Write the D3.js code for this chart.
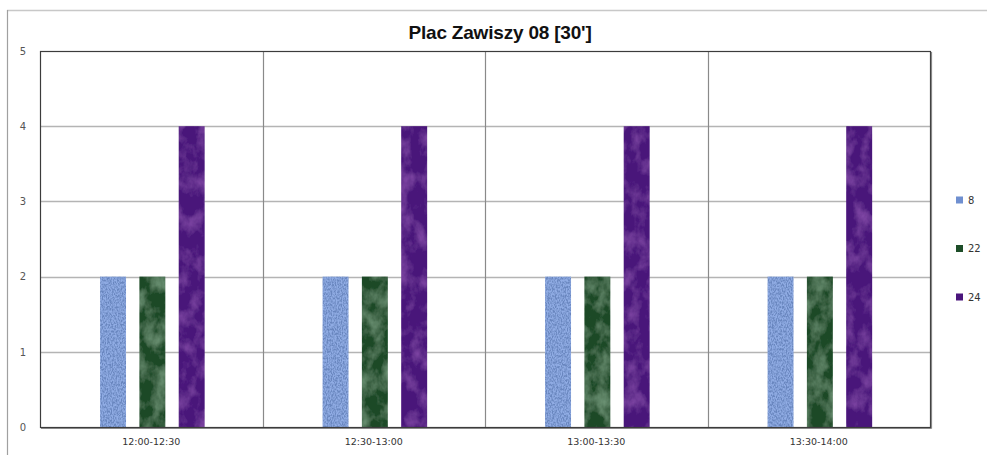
<!DOCTYPE html>
<html>
<head>
<meta charset="utf-8">
<script src="https://cdn.jsdelivr.net/npm/d3@7"></script>
<style>
  body { margin: 0; background: #fff; }
  svg { display: block; }
</style>
</head>
<body>
<div id="chart"></div>
<script>
// data
var categories = ["12:00-12:30", "12:30-13:00", "13:00-13:30", "13:30-14:00"];
var seriesNames = ["8", "22", "24"];
var values8 = [2, 2, 2, 2];
var values22 = [2, 2, 2, 2];
var values24 = [4, 4, 4, 4];
var yTicks = [0, 1, 2, 3, 4, 5];
var title = "Plac Zawiszy 08 [30']";

var seriesValues = [values8, values22, values24];
var colors = ["#90ace4", "#1c4a27", "#48147a"];
var legendColors = ["#6f8fd0", "#1d4d28", "#4a157c"];

var W = 987, H = 455;
var margin = {top: 51, right: 57, bottom: 28, left: 40};
var w = W - margin.left - margin.right,
    h = H - margin.top - margin.bottom;

var svg = d3.select("#chart").append("svg")
    .attr("width", W)
    .attr("height", H);

//---------------------------- textures for the bars ----------------------------
// noise layer in one colour, alpha = a*noise + b, painted over the bar
var defs = svg.append("defs");
function texture(id, freq, oct, rgb, a, b) {
    var f = defs.append("filter").attr("id", id)
        .attr("x", 0).attr("y", 0).attr("width", 1).attr("height", 1);
    f.append("feTurbulence").attr("type", "fractalNoise")
        .attr("baseFrequency", freq).attr("numOctaves", oct).attr("seed", 5).attr("result", "noise");
    f.append("feColorMatrix").attr("in", "noise").attr("type", "matrix")
        .attr("values", "0 0 0 0 " + rgb[0] + "  0 0 0 0 " + rgb[1] + "  0 0 0 0 " + rgb[2] +
            "  " + a + " 0 0 0 " + b)
        .attr("result", "shade");
    f.append("feComposite").attr("in", "shade").attr("in2", "SourceGraphic").attr("operator", "atop");
}
texture("tex0", "0.8 0.45", 2, [0.14, 0.24, 0.52], 2.8, -0.95);
texture("tex1", "0.07 0.05", 4, [0.28, 0.5, 0.32], 1.0, -0.4);
texture("tex2", "0.07 0.05", 4, [0.4, 0.13, 0.6], 0.9, -0.38);

// outer chart frame (cut off at the right)
svg.append("line").attr("x1", 7).attr("x2", W).attr("y1", 10.5).attr("y2", 10.5)
    .attr("stroke", "#c8c8c8").attr("stroke-width", 1.5);
svg.append("line").attr("x1", 7.5).attr("x2", 7.5).attr("y1", 10).attr("y2", H)
    .attr("stroke", "#a0a0a0").attr("stroke-width", 1.2);

// title
svg.append("text")
    .attr("x", 500).attr("y", 39)
    .attr("text-anchor", "middle")
    .style("font-family", "'Liberation Sans', Arial, sans-serif")
    .style("font-weight", "bold")
    .style("font-size", "19px")
    .style("letter-spacing", "-0.2px")
    .style("fill", "#111")
    .text(title);

var g = svg.append("g")
    .attr("transform", "translate(" + margin.left + "," + margin.top + ")");

//---------------------------- scales ----------------------------
var yScale = d3.scaleLinear().domain([0, 5]).range([h, 0]);

var x0 = d3.scaleBand().domain(categories).range([0, w]).padding(0);
var bw = x0.bandwidth();
var x1 = d3.scaleBand().domain(seriesNames)
    .range([bw * 0.27, bw * 0.74])
    .paddingInner(0.34);

// horizontal grid
g.selectAll(".grid")
    .data(yTicks.filter(function (d) { return d > 0 && d < 5; }))
    .enter().append("line")
    .attr("x1", 0).attr("x2", w)
    .attr("y1", function (d) { return Math.round(yScale(d)) + 0.5; })
    .attr("y2", function (d) { return Math.round(yScale(d)) + 0.5; })
    .attr("stroke", "#b4b4b4").attr("stroke-width", 1.3);

// vertical category dividers
g.selectAll(".vdiv")
    .data(categories.slice(1))
    .enter().append("line")
    .attr("x1", function (d) { return Math.round(x0(d)) + 0.5; })
    .attr("x2", function (d) { return Math.round(x0(d)) + 0.5; })
    .attr("y1", 0).attr("y2", h)
    .attr("stroke", "#8a8a8a").attr("stroke-width", 1.2);

//---------------------------- bars ----------------------------
seriesNames.forEach(function (s, si) {
    g.selectAll(".bar" + si)
        .data(seriesValues[si])
        .enter().append("rect")
        .attr("x", function (d, i) { return x0(categories[i]) + x1(s); })
        .attr("y", function (d) { return yScale(d); })
        .attr("width", x1.bandwidth())
        .attr("height", function (d) { return h - yScale(d); })
        .attr("fill", colors[si])
        .attr("filter", "url(#tex" + si + ")");
});

// plot area border
g.append("rect")
    .attr("x", 0.5).attr("y", 0.5)
    .attr("width", w).attr("height", h)
    .attr("fill", "none")
    .attr("stroke", "#3c3c3c").attr("stroke-width", 1.2);
g.append("line").attr("x1", 1).attr("x2", w + 1.5).attr("y1", h + 1.5).attr("y2", h + 1.5)
    .attr("stroke", "#888").attr("stroke-width", 1.2);
g.append("line").attr("x1", w + 1.5).attr("x2", w + 1.5).attr("y1", 1).attr("y2", h + 1.5)
    .attr("stroke", "#888").attr("stroke-width", 1.2);

//---------------------------- axes ----------------------------
var yAxis = g.append("g")
    .call(d3.axisLeft(yScale).tickValues(yTicks).tickFormat(d3.format("d")).tickSize(0).tickPadding(14));
yAxis.select(".domain").remove();
yAxis.selectAll("text")
    .style("font-family", "'DejaVu Sans', Verdana, sans-serif")
    .style("font-size", "10px")
    .style("fill", "#555");

var xAxis = g.append("g")
    .attr("transform", "translate(0," + h + ")")
    .call(d3.axisBottom(x0).tickSize(0).tickPadding(11));
xAxis.select(".domain").remove();
xAxis.selectAll("text")
    .style("font-family", "'DejaVu Sans', Verdana, sans-serif")
    .style("font-size", "9.5px")
    .style("fill", "#333");

//---------------------------- legend ----------------------------
var legend = svg.append("g").attr("transform", "translate(956,0)");
var legendY = d3.scalePoint().domain(seriesNames).range([200, 297]);
seriesNames.forEach(function (s, si) {
    legend.append("rect")
        .attr("x", 0).attr("y", legendY(s) - 3.5)
        .attr("width", 7).attr("height", 7)
        .attr("fill", legendColors[si]);
    legend.append("text")
        .attr("x", 12).attr("y", legendY(s) + 3.5)
        .style("font-family", "'DejaVu Sans', Verdana, sans-serif")
        .style("font-size", "10px")
        .style("fill", "#333")
        .text(s);
});
</script>
</body>
</html>
